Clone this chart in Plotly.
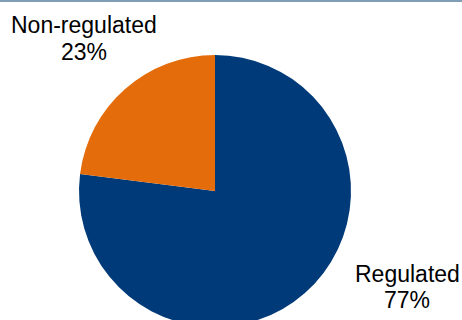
import plotly.graph_objects as go

labels = ["Regulated", "Non-regulated"]
values = [77, 23]
colors = ["#003A78", "#E46C0A"]

W, H = 462, 340
cx, cy, r = 215, 191, 136

fig = go.Figure(go.Pie(
    labels=labels, values=values, sort=False, direction="clockwise", rotation=0,
    marker=dict(colors=colors, line=dict(width=0)),
    textinfo="none", hoverinfo="label+percent", showlegend=False,
    domain=dict(x=[(cx - r) / W, (cx + r) / W], y=[(H - cy - r) / H, (H - cy + r) / H]),
))

# (x center, y of first line, y of second line) in pixels from top
label_pos = {"Regulated": (407, 274, 300), "Non-regulated": (84, 25, 52)}
font = dict(family="Liberation Sans, Arial", size=23, color="#000000")
for lab, val in zip(labels, values):
    x, y1, y2 = label_pos[lab]
    pct = f"{round(100 * val / sum(values))}%"
    for txt, yy in ((lab, y1), (pct, y2)):
        fig.add_annotation(x=x / W, y=1 - yy / H, xref="paper", yref="paper",
                           xanchor="center", yanchor="middle", text=txt,
                           showarrow=False, font=font)

fig.add_shape(type="rect", xref="paper", yref="paper", x0=0, x1=1, y0=1 - 2 / H, y1=1,
              fillcolor="#809FB6", line=dict(width=0))

fig.update_layout(width=W, height=H, margin=dict(l=0, r=0, t=0, b=0),
                  paper_bgcolor="white", plot_bgcolor="white")

fig.write_html("out.html", config={"displayModeBar": False},
               post_script="document.body.style.margin='0';document.body.style.overflow='hidden';")
